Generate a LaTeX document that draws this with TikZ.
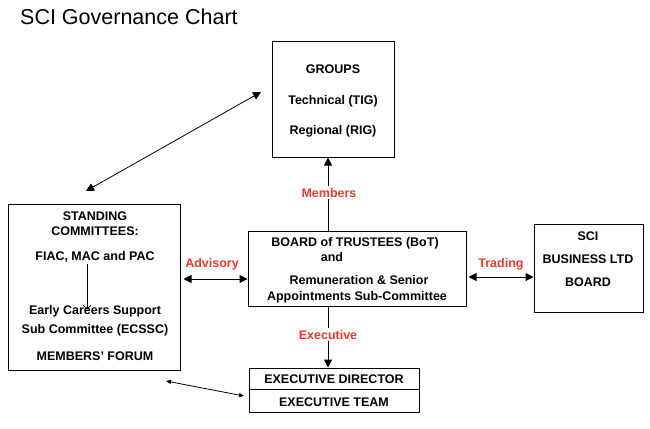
\documentclass[tikz,border=0pt]{standalone}
\usepackage{fontspec}
\setmainfont{Liberation Sans}
\usetikzlibrary{arrows.meta,calc}
\definecolor{lblred}{RGB}{245,55,40}
\tikzset{
  box/.style={draw, line width=1pt, inner sep=0pt},
  txt/.style={anchor=base, inner sep=0pt, font=\bfseries\fontsize{12.5}{14}\selectfont},
  lbl/.style={anchor=base, inner sep=0pt, text=lblred, font=\bfseries\fontsize{12.5}{14}\selectfont},
  conn/.style={line width=1pt},
  bigtip/.style={-{Triangle[length=8pt,width=8pt]}},
  bothtip/.style={{Triangle[length=8pt,width=8pt]}-{Triangle[length=8pt,width=8pt]}},
  smalltip/.style={{Triangle[length=5pt,width=4pt]}-{Triangle[length=5pt,width=4pt]}},
  opentip/.style={-{Straight Barb[length=4pt,width=8pt]}}
}
\begin{document}
\begin{tikzpicture}[x=1pt,y=-1pt]
\useasboundingbox (0,0) rectangle (650,428);
% title
\node[anchor=base west, inner sep=0pt, font=\fontsize{21.5}{24}\selectfont] (title) at (20,25) {SCI Governance Chart};
% boxes
\node[box, minimum width=122pt, minimum height=115pt] (groups) at (333,99.5) {};
\node[box, minimum width=172pt, minimum height=166pt] (standing) at (94,287) {};
\node[box, minimum width=218pt, minimum height=75pt] (bot) at (357,268.5) {};
\node[box, minimum width=109pt, minimum height=88pt] (sci) at (588.5,268) {};
\node[box, minimum width=170pt, minimum height=21pt] (execdir) at (334,378.5) {};
\node[box, minimum width=170pt, minimum height=23pt] (execteam) at (334,400.5) {};
% groups text
\node[txt] (g1) at (333,74) {GROUPS};
\node[txt] (g2) at (333,104.5) {Technical (TIG)};
\node[txt] (g3) at (333,134.5) {Regional (RIG)};
% standing text
\node[txt] (s1) at (95,220) {STANDING};
\node[txt] (s2) at (95,235.5) {COMMITTEES:};
\node[txt] (fiac) at (95,260) {FIAC, MAC and PAC};
\node[txt] (early) at (95,314) {Early Careers Support};
\node[txt] (s5) at (95,333) {Sub Committee (ECSSC)};
\node[txt] (s6) at (95,360) {MEMBERS’ FORUM};
% BoT text
\node[txt] (b1) at (355,246) {BOARD of TRUSTEES (BoT)};
\node[txt] (b2) at (332,261) {and};
\node[txt] (b3) at (359,284) {Remuneration \& Senior};
\node[txt] (b4) at (357,300) {Appointments Sub-Committee};
% SCI text
\node[txt] (c1) at (588,240) {SCI};
\node[txt] (c2) at (588,263) {BUSINESS LTD};
\node[txt] (c3) at (588,286) {BOARD};
% exec text
\node[txt] (e1) at (334,383) {EXECUTIVE DIRECTOR};
\node[txt] (e2) at (334,406) {EXECUTIVE TEAM};
% coordinates
\coordinate (mx) at (328,0);
\coordinate (advy) at (0,279);
\coordinate (trdy) at (0,277);
\coordinate (ax) at (87,0);
\coordinate (d1) at (86,191);
\coordinate (d2) at (261,92);
\coordinate (f1) at (166,381);
\coordinate (f2) at (244,396);
% connectors
\draw[conn, bigtip] (bot.north -| mx) -- (groups.south -| mx);
\node[lbl, fill=white, inner sep=1.5pt] (members) at (329,197) {Members};
\draw[conn, bigtip] (bot.south -| mx) -- (execdir.north -| mx);
\node[lbl, fill=white, inner sep=1.5pt] (executive) at (328,339) {Executive};
\draw[conn, bothtip] ([xshift=3pt]standing.east |- advy) -- (bot.west |- advy);
\node[lbl] (advisory) at (212,267) {Advisory};
\draw[conn, bothtip] ([xshift=2pt]bot.east |- trdy) -- (sci.west |- trdy);
\node[lbl] (trading) at (501,267) {Trading};
\draw[line width=0.8pt, bothtip] (d1) -- (d2);
\draw[line width=0.8pt, smalltip] (f1) -- (f2);
\draw[line width=0.8pt, opentip] ([yshift=-2pt]fiac.south -| ax) -- ([yshift=-5pt]early.north -| ax);
\end{tikzpicture}
\end{document}
